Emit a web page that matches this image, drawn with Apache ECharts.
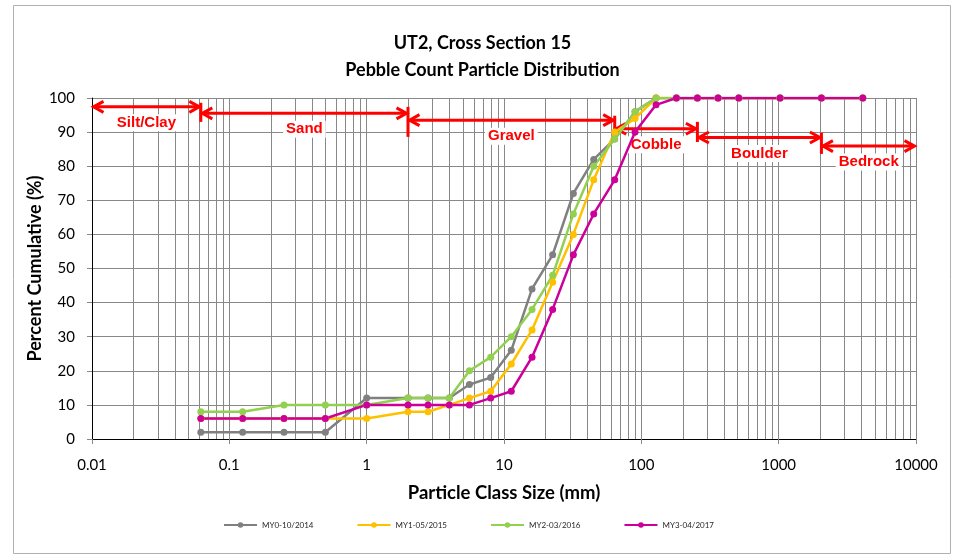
<!DOCTYPE html>
<html>
<head>
<meta charset="utf-8">
<script src="https://cdn.jsdelivr.net/npm/echarts@6/dist/echarts.min.js"></script>
<style>
  html, body { margin: 0; padding: 0; background: #ffffff; }
  #chart { width: 965px; height: 555px; }
</style>
</head>
<body>
<div id="chart"></div>
<script>
// Particle class sizes (mm) on the log x axis
const sizes = [0.062, 0.125, 0.25, 0.5, 1, 2, 2.8, 4, 5.6, 8, 11.3, 16, 22.6, 32, 45, 64, 90, 128, 180, 256, 362, 512, 1024, 2048, 4096];

// Cumulative percent finer, one array per survey
const seriesNames = ['MY0-10/2014', 'MY1-05/2015', 'MY2-03/2016', 'MY3-04/2017'];
const my0 = [2, 2, 2, 2, 12, 12, 12, 12, 16, 18, 26, 44, 54, 72, 82, 88, 96, 100, 100, 100, 100, 100, 100, 100, 100];
const my1 = [6, 6, 6, 6, 6, 8, 8, 10, 12, 14, 22, 32, 46, 60, 76, 90, 94, 100, 100, 100, 100, 100, 100, 100, 100];
const my2 = [8, 8, 10, 10, 10, 12, 12, 12, 20, 24, 30, 38, 48, 66, 80, 88, 96, 100, 100, 100, 100, 100, 100, 100, 100];
const my3 = [6, 6, 6, 6, 10, 10, 10, 10, 10, 12, 14, 24, 38, 54, 66, 76, 90, 98, 100, 100, 100, 100, 100, 100, 100];

// Y axis ticks
const yTicks = [0, 10, 20, 30, 40, 50, 60, 70, 80, 90, 100];

// Substrate classes: name, size range (mm) and the percent level of its arrow
const zoneNames = ['Silt/Clay', 'Sand', 'Gravel', 'Cobble', 'Boulder', 'Bedrock'];
const zoneFrom = [0.01, 0.062, 2, 64, 256, 2048];
const zoneTo = [0.062, 2, 64, 256, 2048, 10000];
const zoneLevel = [97.4, 95.5, 93.5, 91, 88.4, 85.9];

// Class boundary markers: size (mm) and percent span
const boundSize = [0.062, 2, 64, 256, 2048];
const boundTop = [98.6, 97.4, 94.8, 93.0, 89.8];
const boundBottom = [93.0, 88.6, 89.1, 87.1, 83.6];

const colors = ['#808080', '#FFC000', '#92D050', '#CC0099'];
const RED = '#FF0000';
const FONT = 'Lato, "Liberation Sans", sans-serif';

// minor log grid positions: 2..9 within each decade
const minorGrid = [];
for (let e = -2; e < 4; e++) {
  for (let k = 2; k <= 9; k++) minorGrid.push([k * Math.pow(10, e), 50]);
}

const chart = echarts.init(document.getElementById('chart'), null, { renderer: 'canvas' });

function pairs(vals) { return sizes.map((s, i) => [s, vals[i]]); }

const dataSeries = [my0, my1, my2, my3].map((vals, i) => ({
  name: seriesNames[i],
  type: 'line',
  data: pairs(vals),
  symbol: 'circle',
  symbolSize: 7,
  showSymbol: true,
  lineStyle: { color: colors[i], width: 2.5 },
  itemStyle: { color: colors[i] },
  z: 4,
  animation: false
}));

const option = {
  animation: false,
  backgroundColor: '#ffffff',
  color: colors,
  title: {
    text: 'UT2, Cross Section 15\nPebble Count Particle Distribution',
    left: 'center',
    top: 25,
    textStyle: { fontFamily: FONT, fontWeight: 'bold', fontSize: 18, lineHeight: 27, color: '#000' }
  },
  legend: {
    data: seriesNames,
    left: 218,
    top: 516,
    itemWidth: 33,
    itemHeight: 7,
    itemGap: 43,
    textStyle: { fontFamily: FONT, fontSize: 8, color: '#262626' }
  },
  grid: { left: 92, right: 49, top: 98, bottom: 116, containLabel: false },
  xAxis: {
    type: 'log',
    logBase: 10,
    min: 0.01,
    max: 10000,
    splitNumber: 6,
    name: 'Particle Class Size (mm)',
    nameLocation: 'middle',
    nameGap: 45,
    nameMoveOverlap: false,
    nameTextStyle: { fontFamily: FONT, fontWeight: 'bold', fontSize: 18.5, color: '#000' },
    axisLine: { show: true, onZero: false, lineStyle: { color: '#000', width: 1 } },
    axisTick: { show: true, inside: false, length: 5, lineStyle: { color: '#888' } },
    axisLabel: {
      margin: 19,
      fontFamily: FONT, fontSize: 15, color: '#000',
      formatter: v => String(parseFloat(Number(v).toPrecision(6)))
    },
    splitLine: { show: true, lineStyle: { color: '#888', width: 1 } }
  },
  yAxis: {
    type: 'value',
    min: yTicks[0],
    max: yTicks[yTicks.length - 1],
    interval: 10,
    name: 'Percent Cumulative (%)',
    nameLocation: 'middle',
    nameGap: 48,
    nameMoveOverlap: false,
    nameTextStyle: { fontFamily: FONT, fontWeight: 'bold', fontSize: 18, color: '#000' },
    axisLine: { show: true, lineStyle: { color: '#000', width: 1 } },
    axisTick: { show: true, inside: false, length: 5, lineStyle: { color: '#888' } },
    axisLabel: { margin: 17, fontFamily: FONT, fontSize: 15, color: '#000' },
    splitLine: { show: true, lineStyle: { color: '#888', width: 1 } }
  },
  graphic: [{
    type: 'rect',
    shape: { x: 13.5, y: 5.5, width: 937, height: 548 },
    style: { fill: 'none', stroke: '#B0B0B0', lineWidth: 1 },
    silent: true
  }],
  series: [
    {
      // minor vertical grid lines of the log axis
      type: 'custom',
      name: 'minor-grid',
      data: minorGrid,
      silent: true,
      z: 1,
      renderItem: (params, api) => {
        const x = api.value(0);
        const p0 = api.coord([x, 0]);
        const p1 = api.coord([x, 100]);
        const px = Math.round(p0[0]) + 0.5;
        return {
          type: 'line',
          shape: { x1: px, y1: p0[1], x2: px, y2: p1[1] },
          style: { stroke: '#888', lineWidth: 1 }
        };
      }
    },
    {
      // class range arrows with their names
      type: 'custom',
      name: 'zones',
      data: zoneNames.map((n, i) => [zoneFrom[i], zoneTo[i], zoneLevel[i]]),
      encode: { x: [0, 1], y: 2 },
      silent: true,
      clip: false,
      z: 3,
      renderItem: (params, api) => {
        const i = params.dataIndex;
        const a = api.coord([api.value(0), api.value(2)]);
        const b = api.coord([api.value(1), api.value(2)]);
        const x1 = a[0] + 1.5, x2 = b[0] - 1.5, y = a[1];
        const head = 10, half = 5.5;
        return {
          type: 'group',
          children: [
            { type: 'line', shape: { x1: x1 + 2, y1: y, x2: x2 - 2, y2: y }, style: { stroke: RED, lineWidth: 3 } },
            { type: 'polyline', shape: { points: [[x1 + head, y - half], [x1, y], [x1 + head, y + half]] }, style: { stroke: RED, lineWidth: 3, fill: 'none' } },
            { type: 'polyline', shape: { points: [[x2 - head, y - half], [x2, y], [x2 - head, y + half]] }, style: { stroke: RED, lineWidth: 3, fill: 'none' } },
            {
              type: 'text',
              x: (a[0] + b[0]) / 2,
              y: y + 16,
              style: {
                text: zoneNames[i],
                fill: RED,
                font: 'bold 15px "Liberation Sans", Arial, sans-serif',
                align: 'center',
                verticalAlign: 'middle',
                backgroundColor: '#ffffff',
                padding: [1, 3]
              }
            }
          ]
        };
      }
    },
    {
      // class boundary markers
      type: 'custom',
      name: 'bounds',
      data: boundSize.map((s, i) => [s, boundTop[i], boundBottom[i]]),
      encode: { x: 0, y: [1, 2] },
      silent: true,
      clip: false,
      z: 3,
      renderItem: (params, api) => {
        const t = api.coord([api.value(0), api.value(1)]);
        const b = api.coord([api.value(0), api.value(2)]);
        return {
          type: 'line',
          shape: { x1: t[0], y1: t[1], x2: b[0], y2: b[1] },
          style: { stroke: RED, lineWidth: 3 }
        };
      }
    }
  ].concat(dataSeries)
};

chart.setOption(option);
</script>
</body>
</html>
